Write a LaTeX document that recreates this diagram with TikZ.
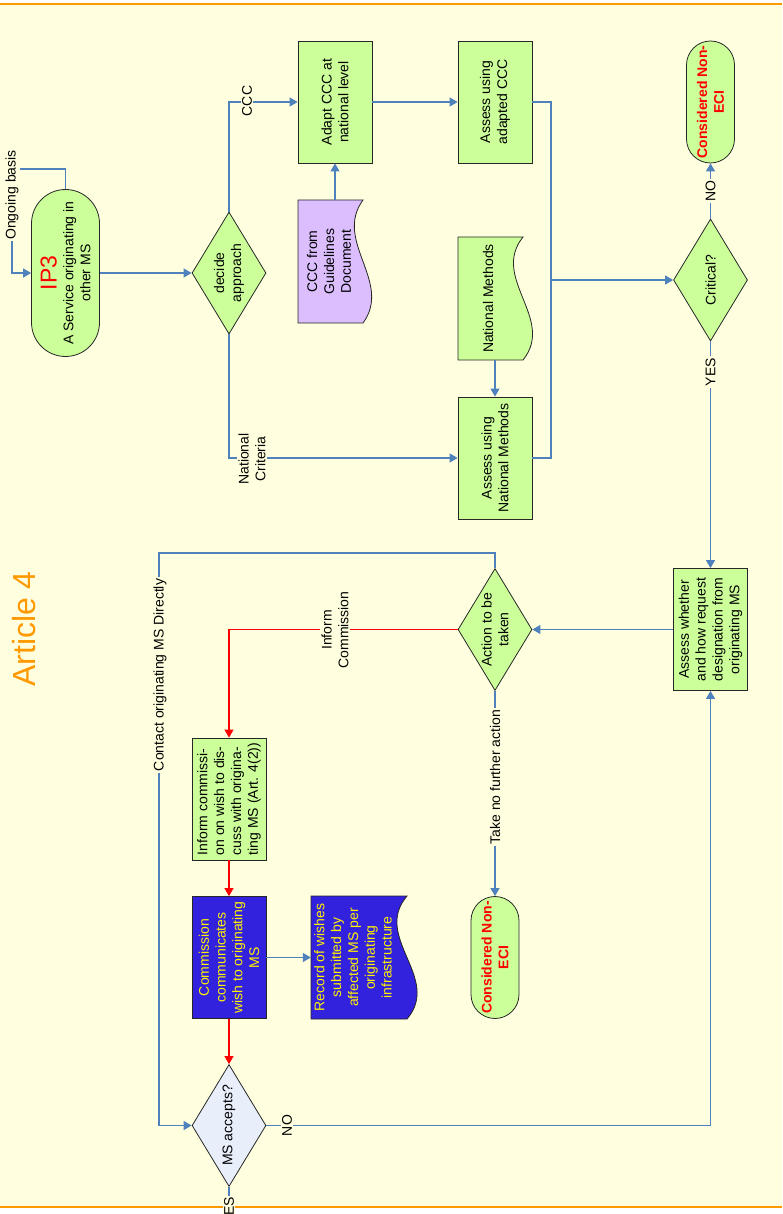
\documentclass[tikz,border=0pt]{standalone}
\usepackage{fontspec}
\setmainfont{Liberation Sans}
\usetikzlibrary{shapes.geometric,arrows.meta}
\definecolor{bgy}{RGB}{255,255,224}
\definecolor{lgreen}{RGB}{204,255,153}
\definecolor{cblue}{RGB}{79,129,189}
\definecolor{lpurp}{RGB}{220,190,255}
\definecolor{dblue}{RGB}{51,34,221}
\definecolor{lblue}{RGB}{232,238,250}
\definecolor{orng}{RGB}{255,153,0}
\newcommand{\fsz}{\fontsize{14}{16.8}\selectfont}
\begin{document}
\begin{tikzpicture}[x=1pt,y=-1pt,
  every node/.style={font=\fsz},
  box/.style={draw=black!85, line width=0.8pt, fill=lgreen, rotate=90, minimum width=122pt, minimum height=74pt, inner sep=2pt, align=center},
  dia/.style={diamond, aspect=1.65, draw=black!85, line width=0.8pt, fill=lgreen, rotate=90, minimum width=122pt, minimum height=74pt, inner sep=0pt, align=center},
  term/.style={rectangle, rounded corners=24pt, draw=black!85, line width=0.8pt, fill=lgreen, rotate=90, minimum height=48pt, minimum width=122pt, inner sep=1pt, align=center, font=\fsz\bfseries, text=red},
  doctext/.style={rotate=90, minimum width=123pt, inner sep=0pt, align=center},
  docshape/.style={draw=black!85, line width=0.8pt},
  conn/.style={draw=cblue, line width=1.2pt},
  flow/.style={conn, -{Triangle[length=8pt,width=9pt]}},
  rflow/.style={draw=red, line width=1.2pt, -{Triangle[length=8pt,width=9pt]}},
  lab/.style={fill=bgy, rotate=90, inner sep=1.5pt, align=center}
]
\useasboundingbox (0,0) rectangle (782,1214);
% background
\fill[white] (0,0) rectangle (782,1214);
\fill[bgy] (0,4) rectangle (782,1207);
\draw[orng, line width=2pt] (0,4) -- (782,4);
\draw[orng, line width=2pt] (0,1207) -- (782,1207);

% document shapes
\draw[docshape, fill=lpurp] (298,200) -- (363,200) .. controls (333,241) and (393,282) .. (363,323) -- (298,323) -- cycle;
\draw[docshape, fill=lgreen] (458,237) -- (523,237) .. controls (490,278) and (556,319) .. (523,360) -- (458,360) -- cycle;
\draw[docshape, fill=dblue] (311,896) -- (407,896) .. controls (372,937) and (442,978) .. (407,1019) -- (311,1019) -- cycle;

% title
\node[rotate=90, text=orng, font=\fontsize{32}{34}\selectfont] (title) at (24,629) {Article 4};

% nodes
\node[term, rounded corners=34pt, minimum width=167pt, minimum height=68pt, font=\fsz, text=black] (ip3) at (65.5,273)
  {{\color{red}\fontsize{23}{24}\selectfont IP3}\\A Service originating in\\other MS};
\node[dia] (dec) at (229,273) {decide\\approach};
\node[box] (adapt) at (335,102) {Adapt CCC at\\national level};
\node[doctext, minimum height=62pt] (cccdoc) at (329,261.5) {CCC from\\Guidelines\\Document};
\node[box] (acc) at (495,102) {Assess using\\adapted CCC};
\node[doctext, minimum height=60pt] (natdoc) at (488,298.5) {National Methods};
\node[box] (anm) at (495,458) {Assess using\\National Methods};
\node[dia] (crit) at (710.5,280) {Critical?};
\node[term] (non1) at (710.5,102) {Considered Non-\\ECI};
\node[box] (aw) at (710.5,629.5) {Assess whether\\and how request\\designation from\\originating MS};
\node[dia] (act) at (495,629.5) {Action to be\\taken};
\node[box, align=left] (inf) at (229,799) {Inform commissi-\\on on wish to dis-\\cuss with origina-\\ting MS (Art. 4(2))};
\node[box, fill=dblue, text=yellow] (com) at (229,957.5) {Commission\\communicates\\wish to originating\\MS};
\node[doctext, minimum height=84pt, text=yellow] (rec) at (353,957.5) {Record of wishes\\submitted by\\affected MS per\\originating\\infrastructure};
\node[term] (non2) at (495,957.5) {Considered Non-\\ECI};
\node[dia, fill=lblue] (msa) at (229,1125.5) {MS accepts?};

% helper coordinates
\coordinate (og1) at (65.5,169);
\coordinate (og2) at (12,169);
\coordinate (og3) at (12,273);
\coordinate (jt) at (551,102);
\coordinate (jm) at (551,280);
\coordinate (jb) at (551,458);
\coordinate (c1) at (495,553);
\coordinate (c2) at (159,553);
\coordinate (c3) at (159,1125.5);
\coordinate (n1) at (710.5,1125.5);
\coordinate (y1) at (229,1240);

% connectors
\draw[flow] (ip3) -- (og1) -- (og2) -- (og3) -- (ip3);
\draw[flow] (ip3) -- (dec);
\draw[flow] (dec) |- (adapt);
\draw[flow] (dec) |- (anm);
\draw[flow] (cccdoc.east -| adapt) -- (adapt);
\draw[flow] (adapt) -- (acc);
\draw[flow] (natdoc.west -| anm) -- (anm);
\draw[conn] (acc) -- (jt) -- (jb) -- (anm);
\draw[flow] (jm) -- (crit);
\draw[flow] (crit) -- (non1);
\draw[flow] (crit) -- (aw);
\draw[flow] (aw) -- (act);
\draw[rflow] (act) -| (inf);
\draw[flow] (act) -- (non2);
\draw[flow] (act) -- (c1) -- (c2) -- (c3) -- (msa);
\draw[rflow] (inf) -- (com);
\draw[rflow] (com) -- (msa);
\draw[flow] (com) -- (rec);
\draw[flow] (msa) -- (n1) -- (aw);
\draw[conn] (msa) -- (y1);

% labels
\node[lab] (lOng) at (12,195) {Ongoing basis};
\node[lab] (lCCC) at (247,101) {CCC};
\node[lab] (lNC) at (252,459) {National\\Criteria};
\node[lab] (lNO1) at (710.5,191) {NO};
\node[lab] (lYES1) at (710.5,372) {YES};
\node[lab] (lIC) at (335,630) {Inform\\Commission};
\node[lab] (lTN) at (495,777) {Take no further action};
\node[lab] (lCO) at (160,675) {Contact originating MS Directly};
\node[lab] (lNO2) at (287,1125.5) {NO};
\node[lab] (lYES2) at (229,1211) {YES};
\end{tikzpicture}
\end{document}
